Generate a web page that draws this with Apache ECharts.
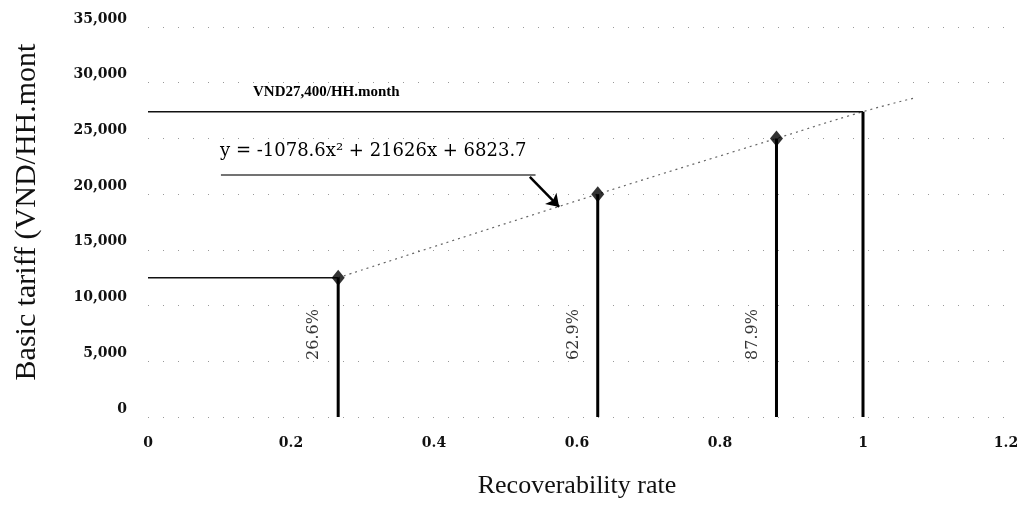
<!DOCTYPE html>
<html>
<head>
<meta charset="utf-8">
<script src="https://cdn.jsdelivr.net/npm/echarts@6/dist/echarts.min.js"></script>
<style>
  html, body { margin: 0; padding: 0; background: #fff; }
  #chart { width: 1030px; height: 506px; }
</style>
</head>
<body>
<div id="chart"></div>
<script>
// recoverability rate (x) and basic tariff (y) at the marked points
const rates = [0.266, 0.629, 0.879, 1.0];
const tariffs = [12500, 20000, 25000, 27400];
const rateLabels = ["26.6%", "62.9%", "87.9%"];
// dotted trend line
const trendX = [0.266, 0.629, 0.879, 1.0, 1.07];
const trendY = [12500, 20000, 25000, 27400, 28600];
// axes
const xTicks = [0, 0.2, 0.4, 0.6, 0.8, 1, 1.2];
const yTicks = [0, 5000, 10000, 15000, 20000, 25000, 30000, 35000];
// texts
const targetText = "VND27,400/HH.month";
const equationText = "y = -1078.6x\u00B2 + 21626x + 6823.7";
const labelHeight = 7400;

const serif = "Liberation Serif";
const wideSerif = "DejaVu Serif";

let myChart = echarts.init(document.getElementById("chart"));

// vertical drop lines, one series each
const dropSeries = rates.map(function (x, i) {
  return {
    type: "line",
    symbol: "none",
    silent: true,
    lineStyle: { color: "#000", width: 3 },
    data: [
      [x, 0],
      [x, tariffs[i]],
    ],
    z: 3,
  };
});

// horizontal guides from the y axis to the first point and to the 100% point
const guideIdx = [0, 3];
const guideSeries = guideIdx.map(function (i) {
  return {
    type: "line",
    symbol: "none",
    silent: true,
    lineStyle: { color: "#111", width: 1.5 },
    data: [
      [0, tariffs[i]],
      [rates[i], tariffs[i]],
    ],
    z: 3,
  };
});

myChart.setOption({
  animation: false,
  grid: { left: 148, right: 24, top: 27, bottom: 89 },
  xAxis: {
    type: "value",
    min: xTicks[0],
    max: xTicks[xTicks.length - 1],
    interval: 0.2,
    name: "Recoverability rate",
    nameLocation: "middle",
    nameGap: 56,
    nameTextStyle: { fontFamily: serif, fontSize: 26, color: "#111" },
    axisLine: { show: false },
    axisTick: { show: false },
    splitLine: { show: false },
    axisLabel: {
      margin: 19,
      fontFamily: wideSerif,
      fontWeight: "bold",
      fontSize: 14,
      color: "#111",
      formatter: function (v) {
        return String(+v.toFixed(1));
      },
    },
  },
  yAxis: {
    type: "value",
    min: yTicks[0],
    max: yTicks[yTicks.length - 1],
    interval: 5000,
    name: "Basic tariff (VND/HH.mont",
    nameLocation: "middle",
    nameGap: 106,
    nameTextStyle: {
      fontFamily: serif,
      fontSize: 30,
      color: "#111",
      padding: [0, 0, 0, 20],
    },
    axisLine: { show: false },
    axisTick: { show: false },
    splitLine: {
      show: true,
      lineStyle: { color: "#999", width: 1, type: [1, 14] },
    },
    axisLabel: {
      margin: 21,
      fontFamily: wideSerif,
      fontWeight: "bold",
      fontSize: 14,
      color: "#111",
      verticalAlign: "bottom",
      padding: [0, 0, 1, 0],
      formatter: function (v) {
        return v.toLocaleString("en-US");
      },
    },
  },
  graphic: [
    {
      type: "text",
      left: 253,
      top: 85,
      style: {
        text: targetText,
        font: "bold 15px " + serif,
        fill: "#000",
      },
    },
    {
      type: "text",
      left: 220,
      top: 142,
      style: {
        text: equationText,
        font: "18px " + wideSerif,
        fill: "#000",
      },
    },
  ],
  series: [
    {
      name: "trend",
      type: "line",
      smooth: true,
      symbol: "none",
      silent: true,
      lineStyle: { color: "#666", width: 1.2, type: [2, 4] },
      data: trendX.map(function (x, i) {
        return [x, trendY[i]];
      }),
      markLine: {
        silent: true,
        label: { show: false },
        lineStyle: { color: "#444", width: 1.5, type: "solid" },
        data: [
          // underline under the equation
          [
            { coord: [0.102, 21720], symbol: "none" },
            { coord: [0.542, 21720], symbol: "none" },
          ],
          // arrow pointing at the trend line
          [
            { coord: [0.534, 21540], symbol: "none", lineStyle: { color: "#000", width: 2.5 } },
            { coord: [0.575, 18850], symbol: "arrow", symbolSize: 12 },
          ],
        ],
      },
      z: 2,
    },
  ]
    .concat(dropSeries)
    .concat(guideSeries)
    .concat([
      {
        type: "scatter",
        symbol: "diamond",
        symbolSize: [13, 16],
        itemStyle: { color: "#000" },
        data: rateLabels.map(function (t, i) {
          return [rates[i], tariffs[i]];
        }),
        z: 5,
      },
      {
        type: "scatter",
        symbolSize: 0,
        silent: true,
        data: rateLabels.map(function (t, i) {
          return { name: t, value: [rates[i], labelHeight] };
        }),
        label: {
          show: true,
          position: "inside",
          rotate: 90,
          offset: [0, -24],
          fontFamily: wideSerif,
          fontSize: 16,
          color: "#000",
          formatter: function (p) {
            return p.name;
          },
        },
        z: 6,
      },
    ]),
});
</script>
</body>
</html>
